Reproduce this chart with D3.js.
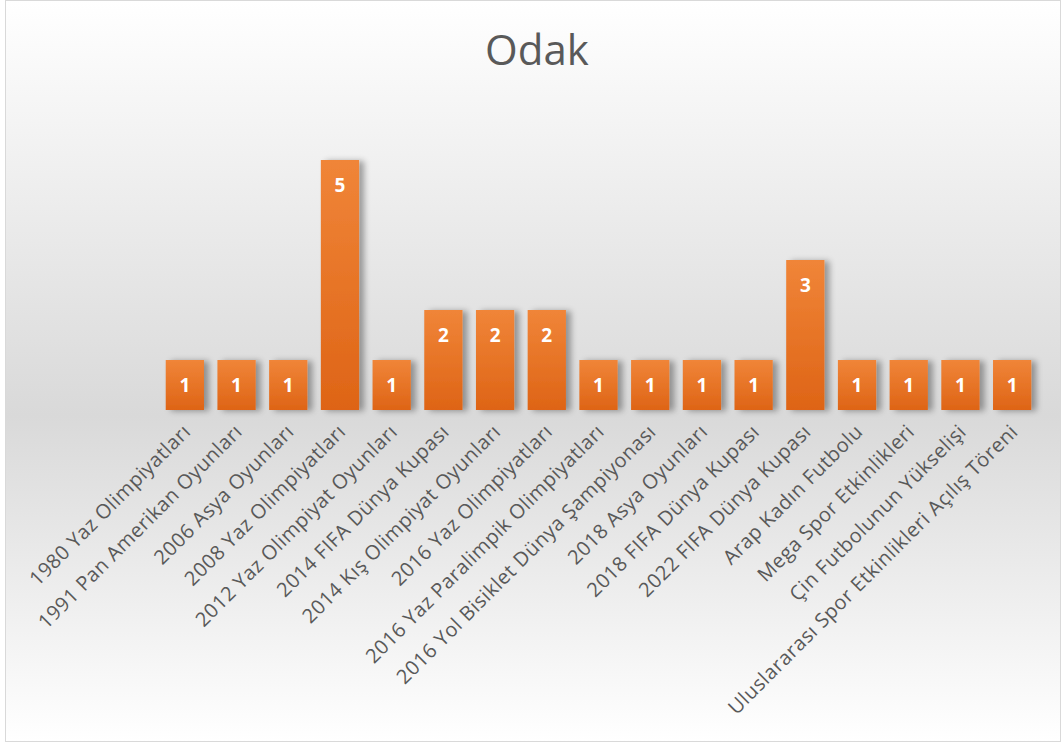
<!DOCTYPE html>
<html>
<head>
<meta charset="utf-8">
<script src="https://cdn.jsdelivr.net/npm/d3@7"></script>
<style>
  body { margin: 0; background: #fff; }
  svg { display: block; }
</style>
</head>
<body>
<svg></svg>
<script>
const categories = [
    "1980 Yaz Olimpiyatları",
    "1991 Pan Amerikan Oyunları",
    "2006 Asya Oyunları",
    "2008 Yaz Olimpiyatları",
    "2012 Yaz Olimpiyat Oyunları",
    "2014 FIFA Dünya Kupası",
    "2014 Kış Olimpiyat Oyunları",
    "2016 Yaz Olimpiyatları",
    "2016 Yaz Paralimpik Olimpiyatları",
    "2016 Yol Bisiklet Dünya Şampiyonası",
    "2018 Asya Oyunları",
    "2018 FIFA Dünya Kupası",
    "2022 FIFA Dünya Kupası",
    "Arap Kadın Futbolu",
    "Mega Spor Etkinlikleri",
    "Çin Futbolunun Yükselişi",
    "Uluslararası Spor Etkinlikleri Açılış Töreni"
];
const values = [1, 1, 1, 5, 1, 2, 2, 2, 1, 1, 1, 1, 3, 1, 1, 1, 1];
const title = "Odak";

const svgWidth = 1062, svgHeight = 744;
const margin = { top: 110, right: 24, bottom: 334, left: 159 };
const width = svgWidth - margin.left - margin.right;
const height = svgHeight - margin.top - margin.bottom;

const svg = d3.select("svg").attr("width", svgWidth).attr("height", svgHeight);
const defs = svg.append("defs");

const bg = defs.append("linearGradient").attr("id", "bg")
    .attr("x1", 0).attr("y1", 0).attr("x2", 0).attr("y2", 1);
bg.append("stop").attr("offset", "0%").attr("stop-color", "#ffffff");
bg.append("stop").attr("offset", "56%").attr("stop-color", "#d9d9d9");
bg.append("stop").attr("offset", "100%").attr("stop-color", "#ffffff");

const barGrad = defs.append("linearGradient").attr("id", "barGrad")
    .attr("x1", 0).attr("y1", 0).attr("x2", 0).attr("y2", 1);
barGrad.append("stop").attr("offset", "0%").attr("stop-color", "#f08538");
barGrad.append("stop").attr("offset", "100%").attr("stop-color", "#de6416");

const shadow = defs.append("filter").attr("id", "shadow")
    .attr("x", "-30%").attr("y", "-30%").attr("width", "180%").attr("height", "160%");
shadow.append("feGaussianBlur").attr("in", "SourceAlpha").attr("stdDeviation", 3);
shadow.append("feOffset").attr("dx", 5).attr("dy", 1).attr("result", "off");
shadow.append("feComponentTransfer").append("feFuncA").attr("type", "linear").attr("slope", 0.35);
const merge = shadow.append("feMerge");
merge.append("feMergeNode");
merge.append("feMergeNode").attr("in", "SourceGraphic");

// background + border
svg.append("rect")
    .attr("x", 5.5).attr("y", 0.5)
    .attr("width", svgWidth - 7).attr("height", svgHeight - 3)
    .attr("fill", "url(#bg)")
    .attr("stroke", "#d9d9d9");

svg.append("text")
    .attr("x", 537).attr("y", 65)
    .attr("text-anchor", "middle")
    .attr("fill", "#595959")
    .style("font-family", "'Open Sans', sans-serif")
    .style("font-size", "42px")
    .text(title);

const g = svg.append("g")
    .attr("transform", "translate(" + margin.left + "," + margin.top + ")");

const x = d3.scaleBand().domain(categories).range([0, width]).paddingInner(0.26).paddingOuter(0.13);
const y = d3.scaleLinear().domain([0, 6]).range([height, 0]);

g.selectAll(".bar")
    .data(values)
    .enter().append("rect")
    .attr("class", "bar")
    .attr("x", function(d, i) { return x(categories[i]); })
    .attr("y", function(d) { return y(d); })
    .attr("width", x.bandwidth())
    .attr("height", function(d) { return height - y(d); })
    .attr("fill", "url(#barGrad)")
    .attr("filter", "url(#shadow)");

g.selectAll(".val")
    .data(values)
    .enter().append("text")
    .attr("class", "val")
    .attr("x", function(d, i) { return x(categories[i]) + x.bandwidth() / 2; })
    .attr("y", function(d) { return y(d) + 32; })
    .attr("text-anchor", "middle")
    .attr("fill", "#ffffff")
    .style("font-family", "'Open Sans', sans-serif")
    .style("font-weight", "bold")
    .style("font-size", "19px")
    .text(function(d) { return d; });

const xAxis = g.append("g")
    .attr("transform", "translate(0," + height + ")")
    .call(d3.axisBottom(x).tickSize(0).tickPadding(0));
xAxis.select(".domain").remove();
xAxis.selectAll("text")
    .attr("fill", "#595959")
    .style("font-family", "'Open Sans', sans-serif")
    .style("font-size", "20px")
    .style("letter-spacing", "0.5px")
    .attr("text-anchor", "end")
    .attr("dy", "0.35em")
    .attr("transform", "translate(2,18) rotate(-45)");
</script>
</body>
</html>
